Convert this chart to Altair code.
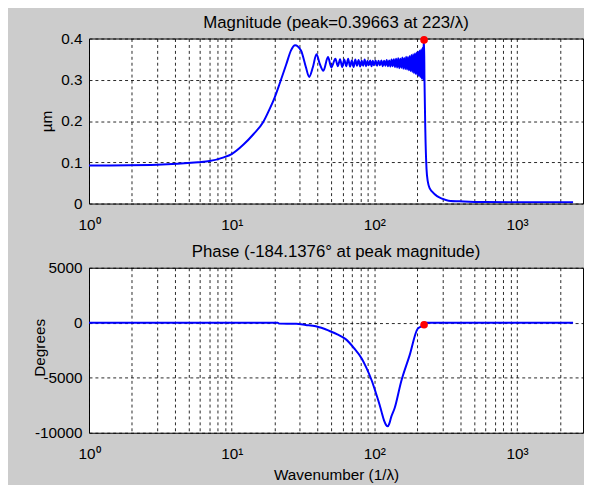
import altair as alt
import pandas as pd

FONT = "Liberation Sans"

# ---------------- data ----------------
mag_k = [1, 3, 5.8, 7, 8.8, 10, 12.1, 14.2, 16.6, 18.5, 20, 21.7, 24.1, 26.1, 27.8,
         30.6, 33.1, 34.9, 37.1, 39.3, 41.3, 43.9, 47.3, 50, 53.3, 55.5,
         57.5, 59.5, 61.5, 63.5, 65.5, 67.5, 69.5, 71.5, 73.5, 75.5, 77.5, 79.5,
         81.5, 83.5, 85.5, 87.5, 89.5, 91.5, 93.5, 95.5, 97.5, 99.5,
         102, 104.5, 107, 109.5, 112, 114.5, 117, 119.5, 122, 124.5, 127, 129.5,
         132, 134.5, 137, 139.5, 142, 144.5, 147, 149.5, 152, 154.5, 157, 159.5,
         162, 164.5, 167, 169.5, 172, 174.5, 177, 179.5, 182, 184.5, 187, 189.5,
         192, 194.5, 197, 199.5, 202, 204.5, 207, 209.5, 212, 214.5, 217, 219.5,
         221.5, 223,
         224.5, 227.5, 232, 237, 245, 254, 275, 298, 331, 423, 600, 1000, 2470]
mag_v = [0.092, 0.094, 0.100, 0.103, 0.112, 0.120, 0.143, 0.168, 0.197, 0.230, 0.257,
         0.291, 0.337, 0.372, 0.384, 0.371, 0.331, 0.307, 0.331, 0.362, 0.340, 0.322,
         0.355, 0.330, 0.351, 0.333,
         0.350, 0.331, 0.349, 0.333, 0.351, 0.332, 0.347, 0.331, 0.349, 0.334, 0.348,
         0.332, 0.346, 0.334, 0.349, 0.333, 0.346, 0.335, 0.347, 0.333, 0.346, 0.335,
         0.347, 0.334, 0.346, 0.335, 0.347, 0.333, 0.346, 0.334, 0.348, 0.333, 0.347,
         0.332, 0.349, 0.333, 0.350, 0.331, 0.351, 0.330, 0.352, 0.328, 0.351, 0.329,
         0.354, 0.327, 0.353, 0.326, 0.356, 0.325, 0.355, 0.323, 0.358, 0.321, 0.360,
         0.319, 0.362, 0.316, 0.364, 0.314, 0.366, 0.312, 0.368, 0.309, 0.371, 0.306,
         0.373, 0.303, 0.377, 0.300,
         0.380, 0.39663,
         0.300, 0.180, 0.084, 0.053, 0.036, 0.029, 0.018, 0.012, 0.007, 0.005, 0.0035,
         0.003, 0.003]

phase_k = [1, 21, 21.6, 28.3, 33, 38.9, 48, 55, 62.6, 72, 81.7, 88, 95.8, 102, 108.8,
           112, 117, 121, 124, 127, 131, 138.8, 154, 176.6, 200.6, 212, 223, 224, 2470]
phase_v = [0, 0, -80, -100, -200, -326, -722, -1050, -1467, -2300, -3263, -4100, -5250,
           -6300, -7455, -8050, -8900, -9300, -9420, -9200, -8600, -7754, -5356, -2964,
           -569, -350, -184.1376, 0, 0]

peak_k = [223]
peak_mag = [0.39663]
peak_phase = [-184.1376]

x_ticks = [1, 2, 3, 4, 5, 6, 7, 8, 9, 10, 20, 30, 40, 50, 60, 70, 80, 90,
           100, 200, 300, 400, 500, 600, 700, 800, 900, 1000, 2000]
mag_ticks = [0, 0.1, 0.2, 0.3, 0.4]
phase_ticks = [-10000, -5000, 0, 5000]

mag_df = pd.DataFrame({"k": mag_k, "v": mag_v})
phase_df = pd.DataFrame({"k": phase_k, "v": phase_v})
pk_mag_df = pd.DataFrame({"k": peak_k, "v": peak_mag})
pk_phase_df = pd.DataFrame({"k": peak_k, "v": peak_phase})

W, H = 500, 167
xscale = alt.Scale(type="log", domain=[1, 2900], nice=False)
label_expr = ("datum.value == 1 ? '10⁰' : datum.value == 10 ? '10¹' : "
              "datum.value == 100 ? '10²' : datum.value == 1000 ? '10³' : ''")


def xaxis(title=None):
    kw = dict(values=x_ticks, labelExpr=label_expr, grid=True, labelPadding=14,
              labelFlush=False, labelOverlap=False)
    if title:
        return alt.Axis(title=title, titlePadding=6, **kw)
    return alt.Axis(title=None, **kw)


top_line = alt.Chart(mag_df).mark_line(color="#0000ff", strokeWidth=2, clip=True,
                                        interpolate="monotone").encode(
    x=alt.X("k:Q", scale=xscale, axis=xaxis()),
    y=alt.Y("v:Q", scale=alt.Scale(domain=[0, 0.4], nice=False),
            axis=alt.Axis(values=mag_ticks, format=".1~f", title="µm", grid=True,
                          labelPadding=7, titleX=-43, titleY=H / 2,
                          titleAlign="center", titleBaseline="middle")),
)
top_dot = alt.Chart(pk_mag_df).mark_point(filled=True, color="#ff0000", size=60,
                                           opacity=1).encode(
    x=alt.X("k:Q", scale=xscale), y=alt.Y("v:Q"))
top = alt.layer(top_line, top_dot).properties(
    width=W, height=H,
    title=alt.TitleParams("Magnitude (peak=0.39663 at 223/λ)", font=FONT, fontSize=17,
                          fontWeight="normal", frame="group", offset=0, color="black"))

bot_line = alt.Chart(phase_df).mark_line(color="#0000ff", strokeWidth=2, clip=True,
                                          interpolate="monotone").encode(
    x=alt.X("k:Q", scale=xscale, axis=xaxis("Wavenumber (1/λ)")),
    y=alt.Y("v:Q", scale=alt.Scale(domain=[-10000, 5000], nice=False),
            axis=alt.Axis(values=phase_ticks, labelExpr="'' + datum.value",
                          title="Degrees", grid=True,
                          labelPadding=7, titleX=-50, titleY=H / 2 - 3,
                          titleAlign="center", titleBaseline="middle")),
)
bot_dot = alt.Chart(pk_phase_df).mark_point(filled=True, color="#ff0000", size=60,
                                             opacity=1).encode(
    x=alt.X("k:Q", scale=xscale), y=alt.Y("v:Q"))
bottom = alt.layer(bot_line, bot_dot).properties(
    width=W, height=H,
    title=alt.TitleParams("Phase (-184.1376° at peak magnitude)", font=FONT, fontSize=17,
                          fontWeight="normal", frame="group", offset=0, color="black"))

chart = alt.vconcat(top, bottom, spacing=9).properties(
    background="#cccccc",
    padding={"left": 24, "top": 2, "right": 0, "bottom": 0},
).configure_view(
    stroke="black", strokeWidth=1, fill="white"
).configure_axis(
    labelFont=FONT, labelFontSize=15.5, labelColor="black",
    titleFont=FONT, titleFontSize=15.5, titleFontWeight="normal", titleColor="black",
    gridColor="black", gridDash=[3, 3], gridOpacity=0.85, gridWidth=1,
    ticks=False, domain=False,
)

chart.save("out.html", embed_options={"renderer": "svg", "actions": False})
